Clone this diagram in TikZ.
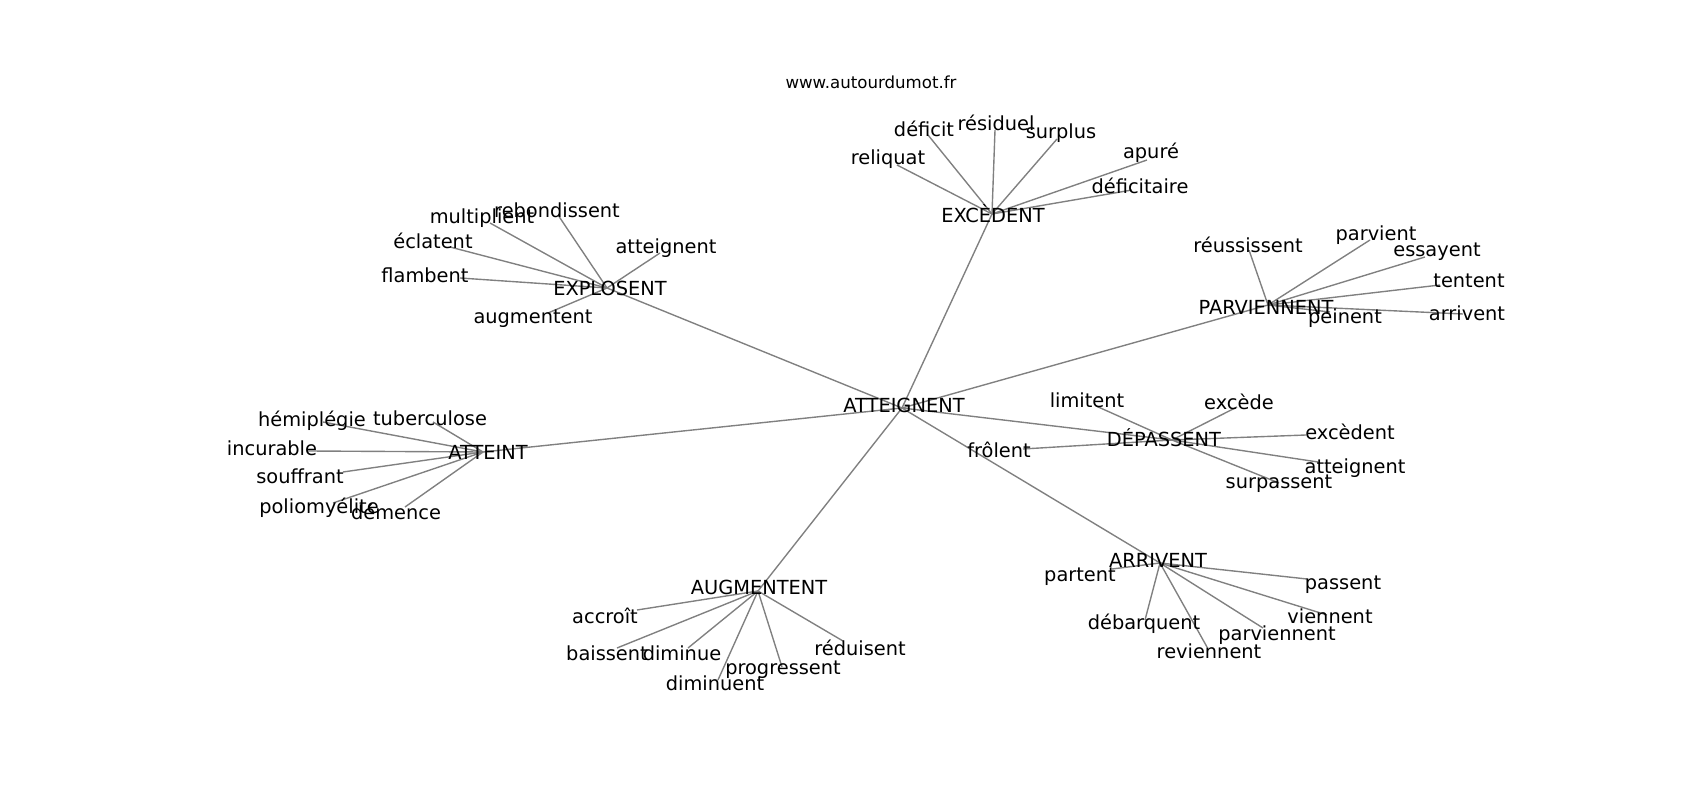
\documentclass[tikz,border=0pt]{standalone}
\usepackage{fontspec}
\setmainfont{DejaVu Sans}

\begin{document}
\begin{tikzpicture}[
  x=0.01in, y=-0.01in,
  word/.style = {inner sep=0pt, font=\fontsize{14}{16}\selectfont},
  site/.style = {inner sep=0pt, font=\fontsize{12}{14}\selectfont},
  edge/.style = {draw=black!50, line width=1pt}
]
\useasboundingbox (0,0) rectangle (1700,800);

%--------------------------------------------------
% graph vertices (where the lines meet)
%--------------------------------------------------
\coordinate (v-ATTEIGNENT)  at (902,408);
\coordinate (v-EXPLOSENT)   at (607,288);
\coordinate (v-EXCEDENT)    at (992,214);
\coordinate (v-PARVIENNENT) at (1268,305);
\coordinate (v-DEPASSENT)   at (1172,440);
\coordinate (v-ATTEINT)     at (483,452);
\coordinate (v-AUGMENTENT)  at (758,591);
\coordinate (v-ARRIVENT)    at (1160,563);

% EXPLOSENT leaves
\coordinate (v-flambent)     at (460,278);
\coordinate (v-eclatent)     at (450,247);
\coordinate (v-multiplient)  at (490,223);
\coordinate (v-rebondissent) at (558,215);
\coordinate (v-atteignent1)  at (660,253);
\coordinate (v-augmentent)   at (548,313);

% EXCEDENT leaves
\coordinate (v-reliquat)    at (897,165);
\coordinate (v-deficit)     at (928,135);
\coordinate (v-residuel)    at (995,130);
\coordinate (v-surplus)     at (1057,139);
\coordinate (v-apure)       at (1147,160);
\coordinate (v-deficitaire) at (1132,190);

% PARVIENNENT leaves
\coordinate (v-reussissent) at (1249,250);
\coordinate (v-parvient)    at (1370,240);
\coordinate (v-essayent)    at (1425,257);
\coordinate (v-tentent)     at (1440,285);
\coordinate (v-arrivent)    at (1463,314);
\coordinate (v-peinent)     at (1330,312);

% DEPASSENT leaves
\coordinate (v-limitent)    at (1096,406);
\coordinate (v-excede)      at (1237,407);
\coordinate (v-excedent)    at (1306,435);
\coordinate (v-atteignent2) at (1318,462);
\coordinate (v-surpassent)  at (1279,483);
\coordinate (v-frolent)     at (1023,449);

% ATTEINT leaves
\coordinate (v-hemiplegie)   at (323,422);
\coordinate (v-tuberculose)  at (433,422);
\coordinate (v-incurable)    at (307,451);
\coordinate (v-souffrant)    at (343,472);
\coordinate (v-poliomyelite) at (333,503);
\coordinate (v-demence)      at (405,507);

% AUGMENTENT leaves
\coordinate (v-accroit)     at (637,610);
\coordinate (v-baissent)    at (617,648);
\coordinate (v-diminue)     at (688,648);
\coordinate (v-diminuent)   at (718,680);
\coordinate (v-progressent) at (782,667);
\coordinate (v-reduisent)   at (843,641);

% ARRIVENT leaves
\coordinate (v-partent)     at (1112,569);
\coordinate (v-passent)     at (1307,579);
\coordinate (v-viennent)    at (1327,615);
\coordinate (v-parviennent) at (1263,628);
\coordinate (v-debarquent)  at (1145,620);
\coordinate (v-reviennent)  at (1207,647);

%--------------------------------------------------
% Connections
%--------------------------------------------------

% centre to hubs
\draw[edge] (v-ATTEIGNENT) -- (v-EXPLOSENT);
\draw[edge] (v-ATTEIGNENT) -- (v-EXCEDENT);
\draw[edge] (v-ATTEIGNENT) -- (v-PARVIENNENT);
\draw[edge] (v-ATTEIGNENT) -- (v-DEPASSENT);
\draw[edge] (v-ATTEIGNENT) -- (v-ATTEINT);
\draw[edge] (v-ATTEIGNENT) -- (v-AUGMENTENT);
\draw[edge] (v-ATTEIGNENT) -- (v-ARRIVENT);

% EXPLOSENT
\draw[edge] (v-EXPLOSENT) -- (v-flambent);
\draw[edge] (v-EXPLOSENT) -- (v-eclatent);
\draw[edge] (v-EXPLOSENT) -- (v-multiplient);
\draw[edge] (v-EXPLOSENT) -- (v-rebondissent);
\draw[edge] (v-EXPLOSENT) -- (v-atteignent1);
\draw[edge] (v-EXPLOSENT) -- (v-augmentent);

% EXCEDENT
\draw[edge] (v-EXCEDENT) -- (v-reliquat);
\draw[edge] (v-EXCEDENT) -- (v-deficit);
\draw[edge] (v-EXCEDENT) -- (v-residuel);
\draw[edge] (v-EXCEDENT) -- (v-surplus);
\draw[edge] (v-EXCEDENT) -- (v-apure);
\draw[edge] (v-EXCEDENT) -- (v-deficitaire);

% PARVIENNENT
\draw[edge] (v-PARVIENNENT) -- (v-reussissent);
\draw[edge] (v-PARVIENNENT) -- (v-parvient);
\draw[edge] (v-PARVIENNENT) -- (v-essayent);
\draw[edge] (v-PARVIENNENT) -- (v-tentent);
\draw[edge] (v-PARVIENNENT) -- (v-arrivent);
\draw[edge] (v-PARVIENNENT) -- (v-peinent);

% DEPASSENT
\draw[edge] (v-DEPASSENT) -- (v-limitent);
\draw[edge] (v-DEPASSENT) -- (v-excede);
\draw[edge] (v-DEPASSENT) -- (v-excedent);
\draw[edge] (v-DEPASSENT) -- (v-atteignent2);
\draw[edge] (v-DEPASSENT) -- (v-surpassent);
\draw[edge] (v-DEPASSENT) -- (v-frolent);

% ATTEINT
\draw[edge] (v-ATTEINT) -- (v-hemiplegie);
\draw[edge] (v-ATTEINT) -- (v-tuberculose);
\draw[edge] (v-ATTEINT) -- (v-incurable);
\draw[edge] (v-ATTEINT) -- (v-souffrant);
\draw[edge] (v-ATTEINT) -- (v-poliomyelite);
\draw[edge] (v-ATTEINT) -- (v-demence);

% AUGMENTENT
\draw[edge] (v-AUGMENTENT) -- (v-accroit);
\draw[edge] (v-AUGMENTENT) -- (v-baissent);
\draw[edge] (v-AUGMENTENT) -- (v-diminue);
\draw[edge] (v-AUGMENTENT) -- (v-diminuent);
\draw[edge] (v-AUGMENTENT) -- (v-progressent);
\draw[edge] (v-AUGMENTENT) -- (v-reduisent);

% ARRIVENT
\draw[edge] (v-ARRIVENT) -- (v-partent);
\draw[edge] (v-ARRIVENT) -- (v-passent);
\draw[edge] (v-ARRIVENT) -- (v-viennent);
\draw[edge] (v-ARRIVENT) -- (v-parviennent);
\draw[edge] (v-ARRIVENT) -- (v-debarquent);
\draw[edge] (v-ARRIVENT) -- (v-reviennent);

%--------------------------------------------------
% Labels
%--------------------------------------------------
\node[site] (source) at (871,82) {www.autourdumot.fr};

% hubs
\node[word] (ATTEIGNENT)  at (904,405)  {ATTEIGNENT};
\node[word] (EXPLOSENT)   at (610,288)  {EXPLOSENT};
\node[word] (EXCEDENT)    at (993,214)  {EXCÈDENT};
\node[word] (PARVIENNENT) at (1266,307) {PARVIENNENT};
\node[word] (DEPASSENT)   at (1164,438) {DÉPASSENT};
\node[word] (ATTEINT)     at (488,452)  {ATTEINT};
\node[word] (AUGMENTENT)  at (759,587)  {AUGMENTENT};
\node[word] (ARRIVENT)    at (1158,560) {ARRIVENT};

% EXPLOSENT
\node[word] (flambent)     at (425,275) {flambent};
\node[word] (eclatent)     at (433,241) {éclatent};
\node[word] (multiplient)  at (482,218) {multiplient};
\node[word] (rebondissent) at (557,210) {rebondissent};
\node[word] (atteignent1)  at (666,248) {atteignent};
\node[word] (augmentent)   at (533,319) {augmentent};

% EXCEDENT
\node[word] (reliquat)    at (888,159)  {reliquat};
\node[word] (deficit)     at (924,129)  {déficit};
\node[word] (residuel)    at (996,123)  {résiduel};
\node[word] (surplus)     at (1061,133) {surplus};
\node[word] (apure)       at (1151,153) {apuré};
\node[word] (deficitaire) at (1140,186) {déficitaire};

% PARVIENNENT
\node[word] (reussissent) at (1248,245) {réussissent};
\node[word] (parvient)    at (1376,235) {parvient};
\node[word] (essayent)    at (1437,252) {essayent};
\node[word] (tentent)     at (1469,281) {tentent};
\node[word] (arrivent)    at (1467,313) {arrivent};
\node[word] (peinent)     at (1345,318) {peinent};

% DEPASSENT
\node[word] (limitent)    at (1087,400) {limitent};
\node[word] (excede)      at (1239,402) {excède};
\node[word] (excedent)    at (1350,432) {excèdent};
\node[word] (atteignent2) at (1355,468) {atteignent};
\node[word] (surpassent)  at (1279,484) {surpassent};
\node[word] (frolent)     at (999,450)  {frôlent};

% ATTEINT
\node[word] (hemiplegie)   at (312,421) {hémiplégie};
\node[word] (tuberculose)  at (430,418) {tuberculose};
\node[word] (incurable)    at (272,448) {incurable};
\node[word] (souffrant)    at (300,476) {souffrant};
\node[word] (poliomyelite) at (319,508) {poliomyélite};
\node[word] (demence)      at (396,512) {démence};

% AUGMENTENT
\node[word] (accroit)     at (605,616) {accroît};
\node[word] (baissent)    at (607,653) {baissent};
\node[word] (diminue)     at (682,653) {diminue};
\node[word] (diminuent)   at (715,683) {diminuent};
\node[word] (progressent) at (783,670) {progressent};
\node[word] (reduisent)   at (860,648) {réduisent};

% ARRIVENT
\node[word] (partent)     at (1080,577) {partent};
\node[word] (passent)     at (1343,585) {passent};
\node[word] (viennent)    at (1330,616) {viennent};
\node[word] (parviennent) at (1277,635) {parviennent};
\node[word] (debarquent)  at (1144,624) {débarquent};
\node[word] (reviennent)  at (1209,651) {reviennent};

\end{tikzpicture}
\end{document}
